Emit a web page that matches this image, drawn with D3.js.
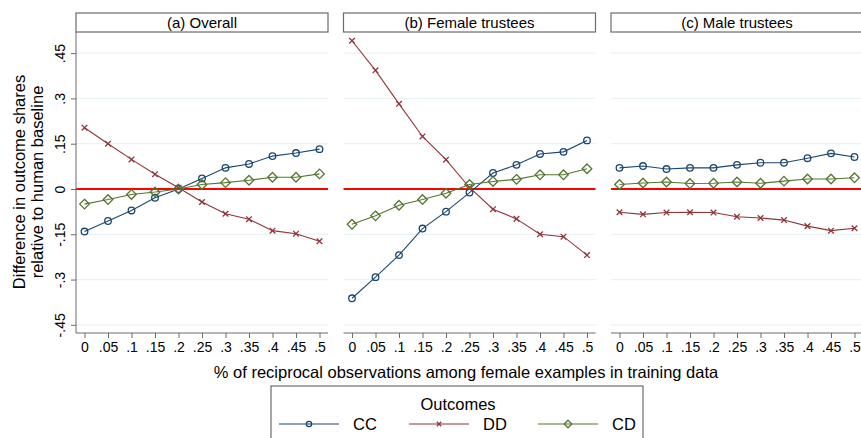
<!DOCTYPE html>
<html>
<head>
<meta charset="utf-8">
<script src="https://cdn.jsdelivr.net/npm/d3@7"></script>
<style>
  body { margin: 0; background: #fff; }
  svg { font-family: "Liberation Sans", Arial, sans-serif; }
</style>
</head>
<body>
<svg id="chart" width="861" height="438"></svg>
<script>
// shares of reciprocal observations among female examples
var shares = [0, .05, .1, .15, .2, .25, .3, .35, .4, .45, .5];
var shareLabels = ["0", ".05", ".1", ".15", ".2", ".25", ".3", ".35", ".4", ".45", ".5"];
var yTicks = [.45, .3, .15, 0, -.15, -.3, -.45];
var yTickLabels = [".45", ".3", ".15", "0", "-.15", "-.3", "-.45"];
var panels = ["(a) Overall", "(b) Female trustees", "(c) Male trustees"];

// outcome differences per panel
var ccOverall = [-0.141, -0.106, -0.071, -0.029, 0.0, 0.035, 0.070, 0.083, 0.109, 0.119, 0.132];
var ddOverall = [0.203, 0.150, 0.098, 0.049, 0.004, -0.043, -0.082, -0.100, -0.138, -0.148, -0.173];
var cdOverall = [-0.050, -0.035, -0.018, -0.010, 0.0, 0.015, 0.021, 0.029, 0.039, 0.039, 0.050];

var ccFemale = [-0.362, -0.292, -0.219, -0.131, -0.075, -0.012, 0.053, 0.080, 0.116, 0.123, 0.161];
var ddFemale = [0.491, 0.393, 0.282, 0.174, 0.097, 0.005, -0.067, -0.099, -0.150, -0.158, -0.219];
var cdFemale = [-0.117, -0.089, -0.054, -0.035, -0.014, 0.015, 0.025, 0.032, 0.047, 0.047, 0.067];

var ccMale = [0.070, 0.076, 0.066, 0.070, 0.070, 0.080, 0.087, 0.087, 0.102, 0.118, 0.106];
var ddMale = [-0.077, -0.084, -0.078, -0.077, -0.078, -0.092, -0.096, -0.103, -0.123, -0.138, -0.130];
var cdMale = [0.015, 0.020, 0.023, 0.018, 0.019, 0.023, 0.019, 0.026, 0.033, 0.033, 0.037];

var outcomes = ["CC", "DD", "CD"];
var colors = {CC: "#1a476f", DD: "#90353b", CD: "#55752f"};
var panelData = [
  {CC: ccOverall, DD: ddOverall, CD: cdOverall},
  {CC: ccFemale, DD: ddFemale, CD: cdFemale},
  {CC: ccMale, DD: ddMale, CD: cdMale}
];

var svg = d3.select("#chart");
var plotTop = 32, plotBottom = 333, panelW = 252;
var lefts = [76, 343.5, 611];

var y = d3.scaleLinear().domain([-0.477, 0.52]).range([plotBottom, plotTop]);

function marker(g, key, cx, cy, r){
  if(key == "CC"){
    g.append("circle").attr("cx", cx).attr("cy", cy).attr("r", r)
      .attr("fill", "none").attr("stroke", colors.CC).attr("stroke-width", 1.3);
  } else if(key == "DD"){
    var s = r * 0.85;
    g.append("path").attr("d", "M" + (cx - s) + "," + (cy - s) + "L" + (cx + s) + "," + (cy + s) +
      "M" + (cx - s) + "," + (cy + s) + "L" + (cx + s) + "," + (cy - s))
      .attr("stroke", colors.DD).attr("stroke-width", 1.3);
  } else {
    var d = r * 1.45;
    g.append("path").attr("d", "M" + cx + "," + (cy - d) + "L" + (cx + d) + "," + cy +
      "L" + cx + "," + (cy + d) + "L" + (cx - d) + "," + cy + "Z")
      .attr("fill", "none").attr("stroke", colors.CD).attr("stroke-width", 1.3);
  }
}

panels.forEach(function(title, i){
  var left = lefts[i];
  var x = d3.scaleLinear().domain([0, .5]).range([left + 8.5, left + panelW - 8.5]);
  var g = svg.append("g");

  // title strip
  g.append("rect").attr("x", left).attr("y", 13).attr("width", panelW).attr("height", 19)
    .attr("fill", "#fff").attr("stroke", "#6b6b6b").attr("stroke-width", 1.2);
  g.append("text").attr("x", left + panelW / 2).attr("y", 28).attr("text-anchor", "middle")
    .style("font-size", "15px").text(title);

  // gridlines
  g.selectAll(".grid").data(yTicks.filter(function(t){ return t != 0; })).enter().append("line")
    .attr("x1", left).attr("x2", left + panelW)
    .attr("y1", function(d){ return y(d); }).attr("y2", function(d){ return y(d); })
    .attr("stroke", "#eaf2f3").attr("stroke-width", 1.3);

  // x axis
  var xAxis = d3.axisBottom(x).tickValues(shares).tickSize(5).tickPadding(4)
    .tickFormat(function(d, j){ return shareLabels[j]; });
  var ax = g.append("g").attr("transform", "translate(0," + plotBottom + ")").call(xAxis);
  ax.select(".domain").attr("d", "M" + left + ",0H" + (left + panelW)).attr("stroke", "#6b6b6b");
  ax.selectAll(".tick line").attr("stroke", "#6b6b6b");
  ax.selectAll("text").style("font-size", "14px").attr("fill", "#000").attr("font-family", "Liberation Sans, Arial, sans-serif");

  // zero reference line
  g.append("line").attr("x1", left).attr("x2", left + panelW)
    .attr("y1", y(0)).attr("y2", y(0)).attr("stroke", "#ff0000").attr("stroke-width", 2);

  // series
  var line = d3.line().x(function(d, j){ return x(shares[j]); }).y(function(d){ return y(d); });
  outcomes.forEach(function(key){
    g.append("path").datum(panelData[i][key]).attr("d", line)
      .attr("fill", "none").attr("stroke", colors[key]).attr("stroke-width", 1.1);
    panelData[i][key].forEach(function(v, j){ marker(g, key, x(shares[j]), y(v), 3.3); });
  });

  // y axis on the first panel only
  if(i == 0){
    var yAxis = d3.axisLeft(y).tickValues(yTicks).tickSize(5).tickPadding(3)
      .tickFormat(function(d, j){ return yTickLabels[j]; });
    var ay = g.append("g").attr("transform", "translate(" + left + ",0)").call(yAxis);
    ay.select(".domain").attr("d", "M0," + plotTop + "V" + plotBottom).attr("stroke", "#6b6b6b");
    ay.selectAll(".tick line").attr("stroke", "#6b6b6b");
    ay.selectAll("text").style("font-size", "14px").attr("fill", "#000")
      .attr("font-family", "Liberation Sans, Arial, sans-serif")
      .attr("text-anchor", "middle").attr("x", 0).attr("dy", 0)
      .attr("transform", "translate(-11,0) rotate(-90)");
  }
});

// axis titles
svg.append("text").attr("x", 466).attr("y", 378).attr("text-anchor", "middle")
  .style("font-size", "16.5px").text("% of reciprocal observations among female examples in training data");

var yt = svg.append("text").attr("transform", "translate(25,182) rotate(-90)")
  .attr("text-anchor", "middle").style("font-size", "16.5px");
yt.append("tspan").attr("x", 0).attr("dy", 0).text("Difference in outcome shares");
yt.append("tspan").attr("x", 0).attr("dy", 18).text("relative to human baseline");

// legend
var lg = svg.append("g");
lg.append("rect").attr("x", 271).attr("y", 386).attr("width", 372).attr("height", 60)
  .attr("fill", "#fff").attr("stroke", "#6b6b6b").attr("stroke-width", 1.2);
lg.append("text").attr("x", 458).attr("y", 410).attr("text-anchor", "middle")
  .style("font-size", "16.5px").text("Outcomes");
var legendX = [279, 409, 538];
outcomes.forEach(function(key, k){
  var lx = legendX[k];
  lg.append("line").attr("x1", lx).attr("x2", lx + 60).attr("y1", 424).attr("y2", 424)
    .attr("stroke", colors[key]).attr("stroke-width", 1.1);
  marker(lg, key, lx + 30, 424, 2.6);
  lg.append("text").attr("x", lx + 74).attr("y", 430).style("font-size", "16.5px").text(key);
});
</script>
</body>
</html>
